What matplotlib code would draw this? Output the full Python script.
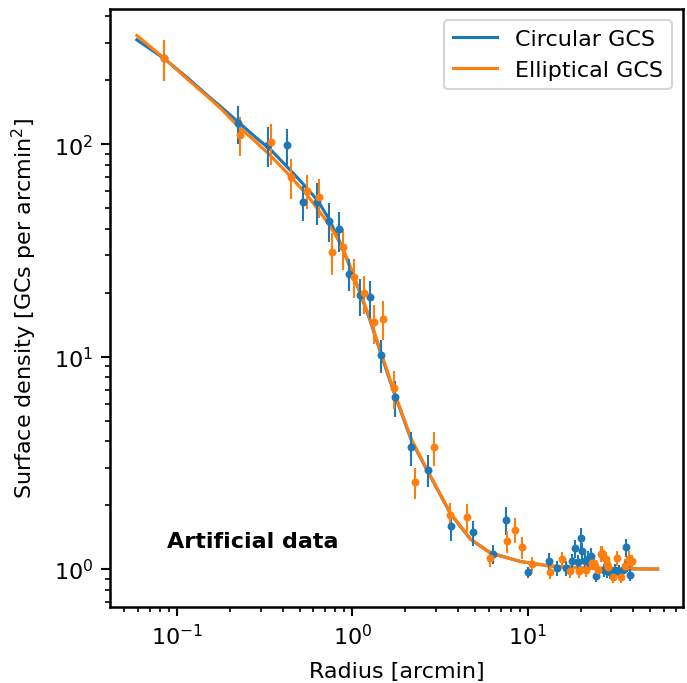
import matplotlib
matplotlib.use("Agg")
import matplotlib.pyplot as plt

plt.rcParams["font.size"] = 10.7

# fitted profiles
r_fit_circ = [0.059, 0.084, 0.115, 0.15, 0.178, 0.224, 0.28, 0.343, 0.42, 0.507,
              0.632, 0.736, 0.85, 1.0, 1.115, 1.27, 1.45, 1.73, 2.18, 2.68,
              3.63, 4.72, 6.14, 9.1, 13.2, 19.1, 30.0, 55.0]
sd_fit_circ = [310, 254, 205, 169, 150, 127, 108, 94, 79, 67,
               54.5, 44.5, 34.5, 24.8, 19.6, 14.6, 10.4, 6.75, 4.0, 2.9,
               1.82, 1.38, 1.19, 1.085, 1.035, 1.015, 1.005, 1.0]

r_fit_ell = [0.059, 0.084, 0.115, 0.15, 0.178, 0.224, 0.28, 0.343, 0.42, 0.554,
             0.705, 0.8, 0.896, 1.0, 1.115, 1.27, 1.45, 1.73, 2.18, 2.68,
             3.63, 4.72, 6.14, 9.1, 13.2, 19.1, 30.0, 55.0]
sd_fit_ell = [325, 255, 202, 167, 147, 121, 103, 88, 74, 57.5,
              44, 37.5, 31.5, 25, 19.8, 14.8, 10.6, 6.85, 4.05, 2.92,
              1.83, 1.385, 1.19, 1.085, 1.035, 1.015, 1.005, 1.0]

# binned data, circular GCS
r_circ = [0.084, 0.224, 0.332, 0.422, 0.523, 0.632, 0.736, 0.839, 0.957, 1.105,
          1.26, 1.45, 1.74, 2.17, 2.71, 3.63, 4.85, 6.36, 7.54, 10.1,
          13.2, 14.7, 16.6, 17.9, 18.7, 19.4, 20.0, 20.5, 21.1, 22.1,
          22.8, 24.6, 27.2, 28.5, 29.6, 31.6, 33.0, 34.9, 36.4, 37.0, 38.5]
sd_circ = [254, 126, 99, 99, 53.4, 53.7, 43.7, 39.7, 24.5, 19.4,
           19.0, 10.2, 6.44, 3.74, 2.94, 1.60, 1.49, 1.18, 1.70, 0.965,
           1.094, 1.008, 1.008, 1.087, 1.25, 1.08, 1.395, 1.21, 1.094, 1.12,
           1.15, 0.93, 0.99, 0.98, 0.97, 0.99, 0.97, 0.99, 1.265, 1.055, 0.937]
err_circ = [55, 26, 21, 19, 10, 12, 9, 8.5, 4.2, 3.8,
            3.8, 1.8, 1.25, 0.7, 0.5, 0.25, 0.2, 0.12, 0.25, 0.06,
            0.1, 0.08, 0.08, 0.09, 0.12, 0.09, 0.16, 0.12, 0.1, 0.1,
            0.1, 0.06, 0.07, 0.07, 0.07, 0.07, 0.07, 0.07, 0.12, 0.09, 0.06]

# binned data, elliptical GCS
r_ell = [0.084, 0.229, 0.344, 0.445, 0.549, 0.645, 0.762, 0.889, 1.02, 1.164,
         1.33, 1.49, 1.73, 2.29, 2.92, 3.60, 4.52, 6.06, 7.64, 8.45,
         9.22, 10.6, 13.4, 15.7, 17.4, 19.5, 21.6, 23.3, 23.8, 25.1,
         26.0, 26.6, 27.8, 28.3, 28.6, 30.7, 32.4, 34.1, 35.8, 37.6, 38.2, 39.3]
sd_ell = [254, 111, 102, 70, 60.5, 56.7, 31.2, 32.7, 23.8, 19.9,
          14.5, 15.1, 7.10, 2.56, 3.74, 1.80, 1.76, 1.127, 1.35, 1.53,
          1.265, 1.06, 0.965, 1.115, 0.98, 0.98, 0.99, 1.067, 1.07, 0.99,
          1.18, 1.19, 1.115, 1.055, 1.02, 0.92, 1.127, 0.92, 1.036, 1.12, 1.08, 1.087]
err_ell = [55, 23, 22, 15, 11, 12, 7, 7, 5, 4,
           3, 3.1, 1.45, 0.43, 0.7, 0.25, 0.26, 0.1, 0.16, 0.21,
           0.15, 0.08, 0.07, 0.09, 0.07, 0.07, 0.07, 0.08, 0.08, 0.07,
           0.1, 0.1, 0.09, 0.08, 0.08, 0.06, 0.09, 0.06, 0.08, 0.09, 0.08, 0.08]

fig = plt.figure(figsize=(687 / 150, 684 / 150), dpi=150)
ax = fig.add_axes([110 / 687, 1 - 607.7 / 684, 573 / 687, 597.7 / 684])

ax.plot(r_fit_circ, sd_fit_circ, color="C0", lw=1.5, label="Circular GCS")
ax.plot(r_fit_ell, sd_fit_ell, color="C1", lw=1.5, label="Elliptical GCS")
ax.errorbar(r_circ, sd_circ, yerr=err_circ, fmt="o", ms=2.8, color="C0", elinewidth=1.0)
ax.errorbar(r_ell, sd_ell, yerr=err_ell, fmt="o", ms=2.8, color="C1", elinewidth=1.0)

ax.set_xscale("log")
ax.set_yscale("log")
ax.set_xlim(0.0415, 76.8)
ax.set_ylim(0.665, 433)

ax.set_xlabel("Radius [arcmin]", labelpad=6)
ax.set_ylabel("Surface density [GCs per arcmin$^2$]", labelpad=7)
ax.text(0.1, 0.1, "Artificial data", transform=ax.transAxes, fontweight="bold")
ax.legend(loc="upper right")

for s in ax.spines.values():
    s.set_linewidth(1.2)
ax.tick_params(which="major", length=4.5, width=1.0)
ax.tick_params(which="minor", length=2.4, width=0.8)

fig.savefig("out.png", dpi=150)
